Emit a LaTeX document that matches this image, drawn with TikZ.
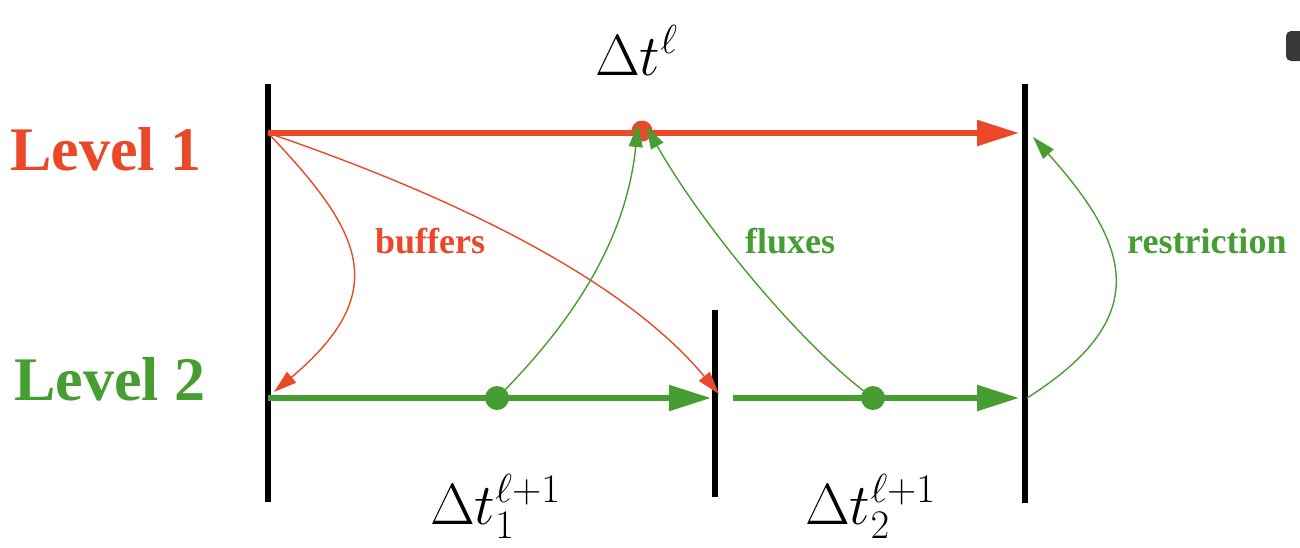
\RequirePackage{fix-cm}
\documentclass[tikz,border=0pt]{standalone}
\usepackage{fontspec}
\setmainfont{Liberation Serif}
\usetikzlibrary{arrows.meta}
\definecolor{lvred}{RGB}{234,72,40}
\definecolor{lvgreen}{RGB}{70,158,50}
\begin{document}
\begin{tikzpicture}[x=1pt,y=-1pt,
  barline/.style={line width=5.5pt,black},
  thickline/.style={line width=5.5pt},
  bigtip/.style={-{Triangle[length=42pt,width=25pt]}},
  thinarrow/.style={line width=1.4pt,-{Triangle[length=23pt,width=14pt]}},
  biglbl/.style={font=\fontsize{62}{70}\selectfont\bfseries,anchor=base west,inner sep=0pt},
  smalllbl/.style={font=\fontsize{36}{40}\selectfont\bfseries,anchor=base west,inner sep=0pt},
  mathlbl/.style={font=\fontsize{58}{70}\selectfont,anchor=base west,inner sep=0pt},
  dot/.style={circle,inner sep=0pt,minimum size=#1}]
\useasboundingbox (0,0) rectangle (1300,547);
\clip (0,0) rectangle (1300,547);
% coordinates
\coordinate (v1t) at (268,84);  \coordinate (v1b) at (268,502);
\coordinate (v2t) at (715,310); \coordinate (v2b) at (715,497);
\coordinate (v3t) at (1025,84); \coordinate (v3b) at (1025,503);
\coordinate (L1s) at (268,133); \coordinate (L1e) at (1019,133);
\coordinate (L2s) at (268,398); \coordinate (L2a) at (711,398);
\coordinate (L2b) at (733,398); \coordinate (L2e) at (1019,398);
\coordinate (b1e) at (274,392); \coordinate (b2e) at (719,394);
\coordinate (f1e) at (638,124); \coordinate (f2e) at (646,126);
\coordinate (rs) at (1027,398); \coordinate (re) at (1033,137);
% vertical bars
\draw[barline] (v1t) -- (v1b);
\draw[barline] (v2t) -- (v2b);
\draw[barline] (v3t) -- (v3b);
% time lines
\draw[thickline,lvred,bigtip] (L1s) -- (L1e);
\draw[thickline,lvgreen,bigtip] (L2s) -- (L2a);
\draw[thickline,lvgreen,bigtip] (L2b) -- (L2e);
% dots
\node[dot=21pt,fill=lvred] (rd) at (642,131) {};
\node[dot=24pt,fill=lvgreen] (g1) at (497,398) {};
\node[dot=24pt,fill=lvgreen] (g2) at (873,398) {};
% thin arrows
\draw[thinarrow,lvred] (L1s) .. controls (360,230) and (395,290) .. (b1e);
\draw[thinarrow,lvred] (L1s) .. controls (458,198) and (624,280) .. (b2e);
\draw[thinarrow,lvgreen] (g1.center) .. controls (568,327) and (626,244) .. (f1e);
\draw[thinarrow,lvgreen] (g2.center) .. controls (800,345) and (700,222) .. (f2e);
\draw[thinarrow,lvgreen] (rs) .. controls (1150,320) and (1135,250) .. (re);
% labels
\node[biglbl,lvred] (lev1) at (10,170) {Level 1};
\node[biglbl,lvgreen] (lev2) at (14,400) {Level 2};
\node[smalllbl,lvred] (buf) at (375,253) {buffers};
\node[smalllbl,lvgreen] (flx) at (745,253) {fluxes};
\node[smalllbl,lvgreen] (rst) at (1127,253) {restriction};
\node[mathlbl] (dtl) at (595,75) {$\Delta t^{\ell}$};
\node[mathlbl] (dt1) at (430,524) {$\Delta t_1^{\ell+1}$};
\node[mathlbl] (dt2) at (805,524) {$\Delta t_2^{\ell+1}$};
% clipped fragment at top right
\fill[black!78,rounded corners=5pt] (1286,31) rectangle (1312,61);
\end{tikzpicture}
\end{document}
